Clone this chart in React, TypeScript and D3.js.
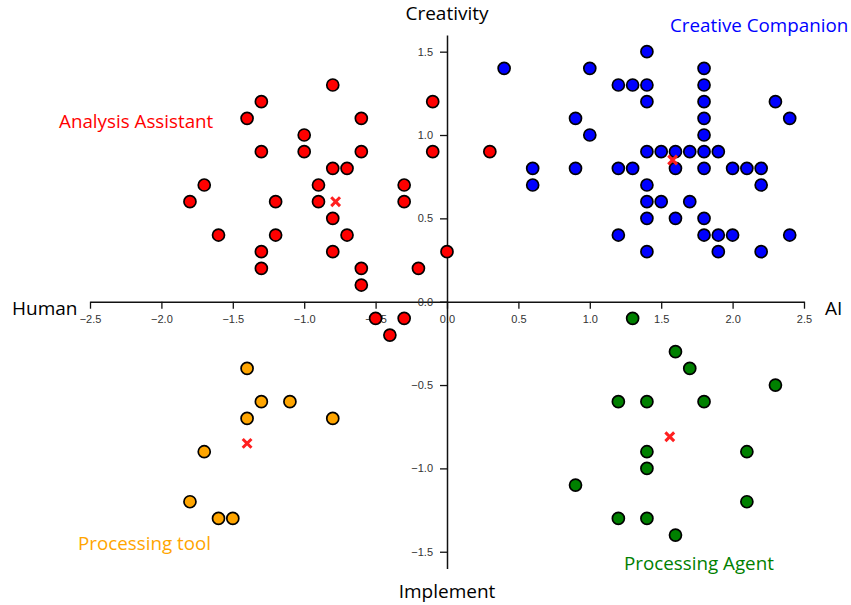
import { useEffect, useRef } from "react";
import * as d3 from "d3";

// points, [AI axis value, creativity value]
const analysisAssistant: [number, number][] = [
  [-0.8, 1.3], [-1.3, 1.2], [-1.4, 1.1], [-0.6, 1.1], [-0.1, 1.2],
  [-1.0, 1.0], [-1.3, 0.9], [-1.0, 0.9], [-0.6, 0.9], [-0.1, 0.9],
  [-0.8, 0.8], [-0.7, 0.8], [-1.7, 0.7], [-0.9, 0.7], [-0.3, 0.7],
  [-1.8, 0.6], [-1.2, 0.6], [-0.9, 0.6], [-0.3, 0.6], [-0.8, 0.5],
  [-1.6, 0.4], [-1.2, 0.4], [-0.7, 0.4], [-1.3, 0.3], [-0.8, 0.3],
  [0.0, 0.3], [-1.3, 0.2], [-0.6, 0.2], [-0.2, 0.2], [-0.6, 0.1],
  [-0.5, -0.1], [-0.3, -0.1], [-0.4, -0.2], [0.3, 0.9],
];

const creativeCompanion: [number, number][] = [
  [1.4, 1.5], [0.4, 1.4], [1.0, 1.4], [1.8, 1.4],
  [1.2, 1.3], [1.3, 1.3], [1.4, 1.3], [1.8, 1.3],
  [1.4, 1.2], [1.8, 1.2], [2.3, 1.2],
  [0.9, 1.1], [1.8, 1.1], [2.4, 1.1],
  [1.0, 1.0], [1.8, 1.0],
  [1.4, 0.9], [1.5, 0.9], [1.6, 0.9], [1.7, 0.9], [1.8, 0.9], [1.9, 0.9],
  [0.6, 0.8], [0.9, 0.8], [1.2, 0.8], [1.3, 0.8], [1.6, 0.8], [1.8, 0.8],
  [2.0, 0.8], [2.1, 0.8], [2.2, 0.8],
  [0.6, 0.7], [1.4, 0.7], [2.2, 0.7],
  [1.4, 0.6], [1.5, 0.6], [1.7, 0.6],
  [1.4, 0.5], [1.6, 0.5], [1.8, 0.5],
  [1.2, 0.4], [1.8, 0.4], [1.9, 0.4], [2.0, 0.4], [2.4, 0.4],
  [1.4, 0.3], [1.9, 0.3], [2.2, 0.3],
];

const processingAgent: [number, number][] = [
  [1.3, -0.1], [1.6, -0.3], [1.7, -0.4], [2.3, -0.5],
  [1.2, -0.6], [1.4, -0.6], [1.8, -0.6],
  [1.4, -0.9], [2.1, -0.9], [1.4, -1.0], [0.9, -1.1], [2.1, -1.2],
  [1.2, -1.3], [1.4, -1.3], [1.6, -1.4],
];

const processingTool: [number, number][] = [
  [-1.4, -0.4], [-1.3, -0.6], [-1.1, -0.6], [-1.4, -0.7], [-0.8, -0.7],
  [-1.7, -0.9], [-1.8, -1.2], [-1.6, -1.3], [-1.5, -1.3],
];

const centroids: [number, number][] = [
  [-0.78, 0.6], [1.58, 0.85], [1.56, -0.81], [-1.4, -0.85],
];

const xTicks = [-2.5, -2.0, -1.5, -1.0, -0.5, 0.0, 0.5, 1.0, 1.5, 2.0, 2.5];
const yTicks = [-1.5, -1.0, -0.5, 0.0, 0.5, 1.0, 1.5];

const groups = [
  { name: "Analysis Assistant", color: "#ff0000", points: analysisAssistant },
  { name: "Creative Companion", color: "#0000ff", points: creativeCompanion },
  { name: "Processing Agent", color: "#008000", points: processingAgent },
  { name: "Processing tool", color: "#ffa500", points: processingTool },
];

const LABEL_FONT = "'Open Sans', 'Noto Sans', sans-serif";
const TICK_FONT = "'Liberation Sans', Arial, sans-serif";

export default function App() {
  const ref = useRef<HTMLDivElement>(null);

  useEffect(() => {
    if (!ref.current) return;
    const container = ref.current;
    d3.select(container).select("svg").remove();

    const width = 851;
    const height = 605;

    const x = d3.scaleLinear().domain([-2.5, 2.5]).range([90, 804]);
    const y = d3.scaleLinear().domain([-1.6, 1.6]).range([568.4, 35]);

    const svg = d3.create("svg")
      .attr("width", width)
      .attr("height", height)
      .attr("viewBox", [0, 0, width, height])
      .style("display", "block")
      .style("background", "#fff");

    const styleAxis = (g: d3.Selection<SVGGElement, unknown, null, undefined>) => {
      g.select(".domain").attr("stroke", "#111").attr("stroke-width", 1.5);
      g.selectAll(".tick line").attr("stroke", "#111").attr("stroke-width", 1.3);
      g.selectAll(".tick text")
        .attr("fill", "#333")
        .attr("font-family", TICK_FONT)
        .attr("font-size", 11);
    };

    // horizontal axis through y = 0
    svg.append("g")
      .attr("transform", `translate(0,${y(0)})`)
      .call(d3.axisBottom(x).tickValues(xTicks).tickFormat(d3.format(".1f")).tickSize(7).tickSizeOuter(0).tickPadding(7))
      .call(styleAxis);

    // vertical axis through x = 0
    svg.append("g")
      .attr("transform", `translate(${x(0)},0)`)
      .call(d3.axisLeft(y).tickValues(yTicks).tickFormat(d3.format(".1f")).tickSize(7).tickSizeOuter(0).tickPadding(7))
      .call(styleAxis);

    // scatter points
    for (const grp of groups) {
      svg.append("g")
        .selectAll("circle")
        .data(grp.points)
        .join("circle")
          .attr("cx", d => x(d[0]))
          .attr("cy", d => y(d[1]))
          .attr("r", 6)
          .attr("fill", grp.color)
          .attr("stroke", "#000")
          .attr("stroke-width", 1.7);
    }

    // cluster centres
    svg.append("g")
      .selectAll("path")
      .data(centroids)
      .join("path")
        .attr("transform", d => `translate(${x(d[0])},${y(d[1])})`)
        .attr("d", d3.symbol().type(d3.symbolX).size(52)())
        .attr("fill", "none")
        .attr("stroke", "#ff2020")
        .attr("stroke-width", 3);

    // axis titles
    const titles = svg.append("g")
      .attr("font-family", LABEL_FONT)
      .attr("font-size", 19)
      .attr("fill", "#000");
    titles.append("text").attr("x", x(0)).attr("y", 20).attr("text-anchor", "middle").text("Creativity");
    titles.append("text").attr("x", x(0)).attr("y", 598).attr("text-anchor", "middle").text("Implement");
    titles.append("text").attr("x", 12).attr("y", 315).text("Human");
    titles.append("text").attr("x", 825).attr("y", 315).text("AI");

    // quadrant names
    const quad = svg.append("g")
      .attr("font-family", LABEL_FONT)
      .attr("font-size", 18.8);
    const place: Record<string, [number, number]> = {
      "Analysis Assistant": [59, 128],
      "Creative Companion": [670, 32],
      "Processing Agent": [624, 570],
      "Processing tool": [78, 550],
    };
    for (const grp of groups) {
      const [px, py] = place[grp.name];
      quad.append("text")
        .attr("x", px)
        .attr("y", py)
        .attr("fill", grp.color)
        .text(grp.name);
    }

    container.append(svg.node()!);
  }, []);

  return <div ref={ref} style={{ position: "absolute", left: 0, top: 0 }} />;
}
